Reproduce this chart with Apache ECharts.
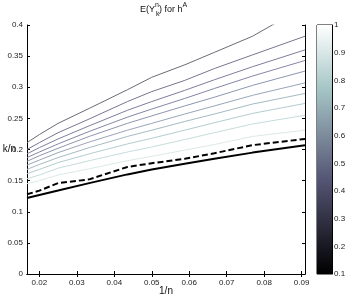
<!DOCTYPE html>
<html><head><meta charset="utf-8">
<script src="https://cdn.jsdelivr.net/npm/echarts@6/dist/echarts.min.js"></script>
<style>html,body{margin:0;padding:0;background:#fff}#c{width:346px;height:297px}</style>
</head><body><div id="c"></div>
<script>
// x = 1/n
var xValues = [0.0167, 0.02, 0.025, 0.0333, 0.0435, 0.05, 0.0588, 0.0667, 0.0769, 0.0909];
var xTicks = [0.02, 0.03, 0.04, 0.05, 0.06, 0.07, 0.08, 0.09];
var yTicks = [0, 0.05, 0.1, 0.15, 0.2, 0.25, 0.3, 0.35, 0.4];
var cbTicks = [0.1, 0.2, 0.3, 0.4, 0.5, 0.6, 0.7, 0.8, 0.9, 1];
// thin lines, top to bottom
var line1 = [0.211, 0.224, 0.242, 0.266, 0.296, 0.316, 0.336, 0.356, 0.382, 0.430];
var line2 = [0.200, 0.211, 0.227, 0.249, 0.277, 0.293, 0.311, 0.330, 0.352, 0.382];
var line3 = [0.193, 0.203, 0.217, 0.238, 0.263, 0.277, 0.295, 0.312, 0.333, 0.360];
var line4 = [0.187, 0.196, 0.209, 0.229, 0.252, 0.265, 0.282, 0.298, 0.318, 0.343];
var line5 = [0.181, 0.190, 0.202, 0.221, 0.242, 0.254, 0.270, 0.284, 0.303, 0.326];
var line6 = [0.175, 0.183, 0.195, 0.212, 0.231, 0.242, 0.257, 0.270, 0.287, 0.307];
var line7 = [0.168, 0.176, 0.187, 0.203, 0.221, 0.231, 0.245, 0.257, 0.273, 0.290];
var line8 = [0.161, 0.168, 0.179, 0.193, 0.209, 0.218, 0.231, 0.243, 0.258, 0.274];
var line9 = [0.153, 0.159, 0.170, 0.182, 0.196, 0.204, 0.216, 0.227, 0.241, 0.255];
var line10 = [0.145, 0.150, 0.159, 0.169, 0.182, 0.189, 0.199, 0.208, 0.221, 0.231];
var dashedLine = [0.128, 0.134, 0.146, 0.152, 0.172, 0.178, 0.185, 0.194, 0.207, 0.217];
var solidLine = [0.122, 0.127, 0.134, 0.146, 0.160, 0.168, 0.177, 0.185, 0.195, 0.207];
var thinLines = [line1, line2, line3, line4, line5, line6, line7, line8, line9, line10];
var thinColors = ['#6a6a74', '#767690', '#7e7e9e', '#8686a8', '#8e96b0', '#98a6b8', '#a4bac2', '#b4cccc', '#c8dcdc', '#dde9e9'];

function pairs(ys){ return xValues.map(function(x,i){ return [x, ys[i]]; }); }

var font = 'Liberation Sans, Arial, sans-serif';
var series = [];
thinLines.forEach(function(l, i){
  series.push({type:'line', data: pairs(l), showSymbol:false, xAxisIndex:0, yAxisIndex:0,
    lineStyle:{color: thinColors[i], width:1}, clip:true, silent:true, z:2});
});
series.push({type:'line', data: pairs(dashedLine), showSymbol:false, xAxisIndex:0, yAxisIndex:0,
  lineStyle:{color:'#000', width:2, type:[6,3]}, clip:true, z:3});
series.push({type:'line', data: pairs(solidLine), showSymbol:false, xAxisIndex:0, yAxisIndex:0,
  lineStyle:{color:'#000', width:2}, clip:true, z:3});
series.push({type:'bar', xAxisIndex:2, yAxisIndex:2, data:[1], barWidth:'100%', clip:true,
  itemStyle:{color: new echarts.graphic.LinearGradient(0,0,0,1,[
    {offset:0, color:'#ffffff'},{offset:0.1, color:'#dce9e9'},{offset:0.2, color:'#b9d2d2'},
    {offset:0.25, color:'#a7c7c7'},{offset:0.3, color:'#9cb8bc'},{offset:0.4, color:'#8699a6'},
    {offset:0.5, color:'#707a8f'},{offset:0.6, color:'#595b79'},{offset:0.625, color:'#545474'},
    {offset:0.7, color:'#43435c'},{offset:0.8, color:'#2d2d3e'},{offset:0.9, color:'#16161f'},
    {offset:1, color:'#000000'}])}});

var axisCommon = {
  axisLine:{show:true, lineStyle:{color:'#000', width:1}},
  splitLine:{show:false},
  axisTick:{inside:true, length:3, lineStyle:{color:'#000'}},
  axisLabel:{color:'#222', fontSize:8, fontFamily:font}
};
function ax(extra){ return echarts.util.merge(echarts.util.clone(axisCommon), extra, true); }

var option = {
  animation:false,
  backgroundColor:'#fff',
  title:[{
    left:140, top:2, padding:0,
    text:'{a|E(Y}{s|n}{a|) for h}{s|A}',
    textStyle:{fontWeight:'normal', rich:{
      a:{fontSize:9, fontFamily:font, color:'#111', fontWeight:'normal', lineHeight:16, verticalAlign:'middle'},
      s:{fontSize:7, fontFamily:font, color:'#111', fontWeight:'normal', verticalAlign:'top', lineHeight:16}
    }}
  },{
    left:156, top:11, padding:0, text:'k',
    textStyle:{fontSize:7, fontFamily:font, color:'#111', fontWeight:'normal'}
  }],
  grid:[
    {left:27, right:41, top:25, bottom:23, outerBoundsMode:'none', containLabel:false},
    {left:317, width:15, top:25, height:249, show:true, borderColor:'#000', borderWidth:1, outerBoundsMode:'none', containLabel:false}
  ],
  xAxis:[
    ax({type:'value', gridIndex:0, position:'bottom', min:0.0167, max:0.0909,
      name:'1/n', nameLocation:'middle', nameGap:12, nameMoveOverlap:false,
      nameTextStyle:{fontSize:10, fontFamily:font, color:'#111', verticalAlign:'top'},
      axisTick:{customValues:xTicks}, axisLabel:{customValues:xTicks, margin:5}}),
    ax({type:'value', gridIndex:0, position:'top', min:0.0167, max:0.0909,
      axisTick:{customValues:xTicks}, axisLabel:{show:false}}),
    {type:'category', gridIndex:1, data:['c'], show:false, boundaryGap:true}
  ],
  yAxis:[
    ax({type:'value', gridIndex:0, position:'left', min:0, max:0.4, interval:0.05,
      name:'k/n', nameLocation:'middle', nameRotate:0, nameGap:11, nameMoveOverlap:false,
      nameTextStyle:{fontSize:10, fontFamily:font, color:'#111', padding:[0,0,10,0]},
      axisLabel:{margin:4}}),
    ax({type:'value', gridIndex:0, position:'right', min:0, max:0.4, interval:0.05,
      axisLabel:{show:false}}),
    ax({type:'value', gridIndex:1, position:'right', min:0.1, max:1,
      axisTick:{customValues:cbTicks}, axisLabel:{customValues:cbTicks, margin:2}})
  ],
  series: series
};
var chart = echarts.init(document.getElementById('c'), null, {renderer:'canvas'});
chart.setOption(option);
</script></body></html>
